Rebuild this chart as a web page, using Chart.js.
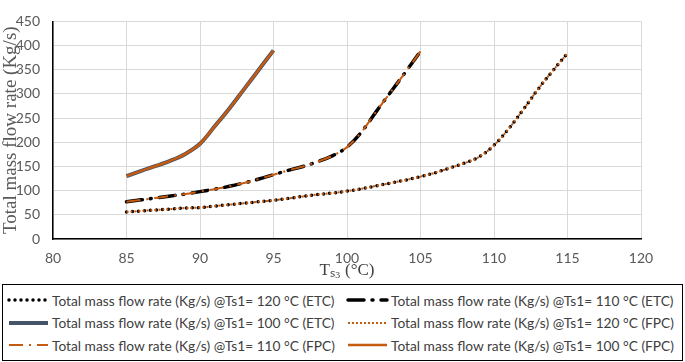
<!DOCTYPE html>
<html>
<head>
<meta charset="utf-8">
<script src="https://cdn.jsdelivr.net/npm/chart.js@4.4.0/dist/chart.umd.min.js"></script>
<style>
    body { margin: 0; background: #fff; width: 685px; height: 362px; overflow: hidden; }
    #wrap { position: absolute; left: 0; top: 0; width: 685px; height: 283px; }
    #legend {
        position: absolute; left: 2px; top: 284px; width: 679px; height: 75px;
        border: 1px solid #000;
        font-family: Lato, sans-serif; font-size: 14px; color: #404040;
    }
    .item { position: absolute; height: 22px; display: flex; align-items: center; white-space: nowrap; }
    .item svg { display: block; flex: none; margin-right: 1px; }
</style>
</head>
<body>
<div id="wrap"><canvas id="myChart" width="685" height="283"></canvas></div>
<div id="legend"></div>
<script>
    // Ts3 values (°C) for each curve
    var ts3For120 = [85, 86, 87, 88, 89, 90, 91, 92, 93, 94, 95, 96, 97, 98, 99, 100,
                     101, 102, 103, 104, 105, 106, 107, 108, 109, 110, 111, 112, 113, 114, 115];
    var ts3For110 = [85, 86, 87, 88, 89, 90, 91, 92, 93, 94, 95, 96, 97, 98, 99, 100,
                     101, 102, 103, 104, 105];
    var ts3For100 = [85, 86, 87, 88, 89, 90, 91, 92, 93, 94, 95];

    // total mass flow rate (Kg/s), ETC and FPC curves sit on top of each other
    var flow120 = [56, 58, 60, 62, 64, 65, 68, 71, 74, 77, 80, 84, 88, 92, 95, 99,
                   104, 110, 116, 122, 129, 137, 147, 157, 170, 194, 228, 268, 310, 348, 384];
    var flow110 = [77, 81, 85, 89, 93, 98, 103, 109, 116, 124, 133, 142, 150, 160, 172, 190,
                   222, 264, 305, 346, 388];
    var flow100 = [130, 141, 151, 162, 176, 197, 233, 270, 310, 350, 390];

    var seriesLabels = [
        'Total mass flow rate (Kg/s) @Ts1= 120 °C (ETC)',
        'Total mass flow rate (Kg/s) @Ts1= 110 °C (ETC)',
        'Total mass flow rate (Kg/s) @Ts1= 100 °C (ETC)',
        'Total mass flow rate (Kg/s) @Ts1= 120 °C (FPC)',
        'Total mass flow rate (Kg/s) @Ts1= 110 °C (FPC)',
        'Total mass flow rate (Kg/s) @Ts1= 100 °C (FPC)'
    ];

    const orange = '#C55A11';
    const slate = '#44546A';

    function toPoints(xs, ys) {
        return xs.map((value, index) => ({ x: value, y: ys[index] }));
    }

    const lineCommon = {
        pointRadius: 0,
        pointHoverRadius: 0,
        fill: false,
        tension: 0.35,
    };

    var datasets = [
        Object.assign({}, lineCommon, { label: seriesLabels[0], data: toPoints(ts3For120, flow120),
            borderColor: '#000', borderWidth: 3.5, borderDash: [0, 6], borderCapStyle: 'round', order: 1 }),
        Object.assign({}, lineCommon, { label: seriesLabels[1], data: toPoints(ts3For110, flow110),
            borderColor: '#000', borderWidth: 3.5, borderDash: [16, 8, 1, 8], borderCapStyle: 'round', order: 1 }),
        Object.assign({}, lineCommon, { label: seriesLabels[2], data: toPoints(ts3For100, flow100),
            borderColor: slate, borderWidth: 4, order: 1 }),
        Object.assign({}, lineCommon, { label: seriesLabels[3], data: toPoints(ts3For120, flow120),
            borderColor: orange, borderWidth: 2, borderDash: [2, 2], order: 0 }),
        Object.assign({}, lineCommon, { label: seriesLabels[4], data: toPoints(ts3For110, flow110),
            borderColor: orange, borderWidth: 2, borderDash: [14, 6, 2, 6], order: 0 }),
        Object.assign({}, lineCommon, { label: seriesLabels[5], data: toPoints(ts3For100, flow100),
            borderColor: orange, borderWidth: 2.5, order: 0 }),
    ];

    var ctx = document.getElementById('myChart').getContext('2d');
    var chart = new Chart(ctx, {
        type: 'line',
        data: { datasets: datasets },
        options: {
            animation: false,
            responsive: false,
            layout: { padding: { top: 5, right: 44 } },
            plugins: { legend: { display: false }, tooltip: { enabled: false } },
            scales: {
                x: {
                    type: 'linear',
                    min: 80,
                    max: 120,
                    afterFit: (s) => { s.height = 44; },
                    ticks: { stepSize: 5, padding: 11, color: '#595959',
                             font: { family: 'Lato', size: 14 } },
                    grid: { color: '#d9d9d9', drawTicks: false },
                    border: { color: '#000', width: 1.5 },
                    title: { display: true, text: 'Tₛ₃ (°C)', color: '#404040',
                             font: { family: 'Liberation Serif', size: 17 }, padding: { top: 0, bottom: 2 } }
                },
                y: {
                    min: 0,
                    max: 450,
                    afterFit: (s) => { s.width = 53; },
                    ticks: { stepSize: 50, padding: 13, color: '#595959',
                             font: { family: 'Lato', size: 14 } },
                    grid: { color: '#d9d9d9', drawTicks: false },
                    border: { color: '#000', width: 1.5 },
                    title: { display: true, text: 'Total mass flow rate (Kg/s)', color: '#595959',
                             font: { family: 'Liberation Serif', size: 19 }, padding: { top: 0, bottom: 0 } }
                }
            }
        }
    });

    // fit legend font so one label is about 283px wide, as in the original
    ctx.font = '14px Lato';
    var labelWidth = ctx.measureText(seriesLabels[0]).width;
    var legendEl = document.getElementById('legend');
    legendEl.style.fontSize = (14 * 283 / labelWidth).toFixed(2) + 'px';

    // legend drawn as html from the chart's own datasets, two per row
    chart.data.datasets.forEach((ds, i) => {
        var item = document.createElement('div');
        item.className = 'item';
        item.style.left = (i % 2 == 0) ? '3px' : '342px';
        item.style.top = (4 + Math.floor(i / 2) * 22.5) + 'px';
        var dash = ds.borderDash ? ds.borderDash.join(' ') : 'none';
        var cap = ds.borderCapStyle || 'butt';
        item.innerHTML =
            '<svg width="45" height="8"><line x1="3" y1="4" x2="42" y2="4" stroke="' + ds.borderColor +
            '" stroke-width="' + ds.borderWidth + '" stroke-dasharray="' + dash +
            '" stroke-linecap="' + cap + '"/></svg><span>' + ds.label + '</span>';
        legendEl.appendChild(item);
    });
</script>
</body>
</html>
